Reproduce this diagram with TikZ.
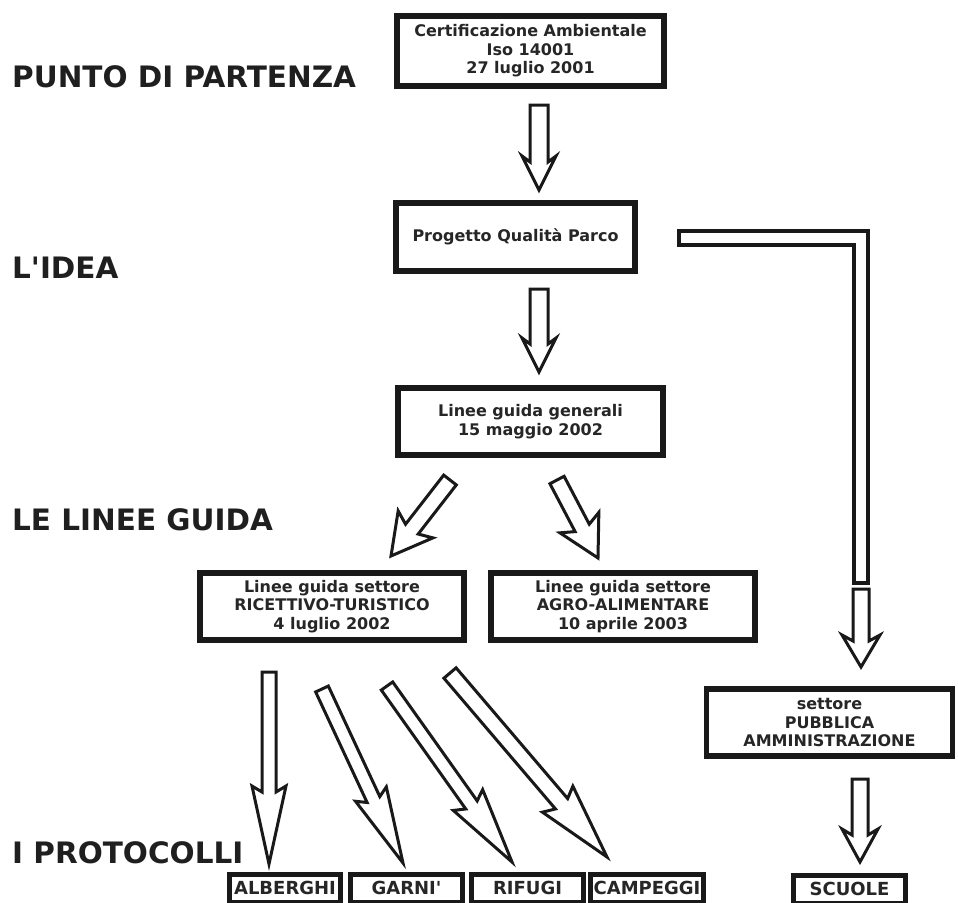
\documentclass[tikz,border=0pt]{standalone}
\usepackage{fontspec}
\setmainfont{DejaVu Sans}
\usetikzlibrary{calc}
\tikzset{
  box/.style={draw=black!90, line width=5.5pt, fill=white, inner sep=0pt, align=center,
    font=\bfseries\fontsize{16}{18.5}\selectfont, text=black!85},
  smallbox/.style={box, line width=5pt, font=\bfseries\fontsize{18}{20}\selectfont},
  biglabel/.style={anchor=base west, inner sep=0pt, font=\bfseries\fontsize{29.5}{32}\selectfont, text=black!88},
  arrowline/.style={draw=black!90, line width=3pt, fill=white, line join=miter},
  barline/.style={draw=black!90, line width=4pt, fill=white, line join=miter}
}
% #1 tail, #2 tip, #3 shaft half width, #4 head half width, #5 head length
\newcommand{\harrow}[5]{%
  \path[arrowline] let \p1=(#1), \p2=(#2), \n1={atan2(\y2-\y1,\x2-\x1)},
     \n2={veclen(\x2-\x1,\y2-\y1)} in
     {[shift={(\x1,\y1)}, rotate=\n1]
      (0,-#3) -- (\n2-#5+6,-#3) -- (\n2-#5,-#4) -- (\n2,0) -- (\n2-#5,#4)
      -- (\n2-#5+6,#3) -- (0,#3) -- cycle};
}
\begin{document}
\begin{tikzpicture}[x=1pt,y=-1pt]
\useasboundingbox (0,0) rectangle (958,902);
% left labels
\node[biglabel] (l1) at (12,87) {PUNTO DI PARTENZA};
\node[biglabel] (l2) at (12,278) {L\textquotesingle IDEA};
\node[biglabel] (l3) at (12,530) {LE LINEE GUIDA};
\node[biglabel] (l4) at (12,863) {I PROTOCOLLI};
% boxes
\node[box, minimum width=267, minimum height=70] (b1) at (530.5,51)
  {Certificazione Ambientale\\Iso 14001\\27 luglio 2001};
\node[box, minimum width=239, minimum height=68] (b2) at (515.5,237)
  {Progetto Qualità Parco};
\node[box, minimum width=265, minimum height=67] (b3) at (530.5,421.5)
  {Linee guida generali\\15 maggio 2002};
\node[box, minimum width=264, minimum height=67] (b4) at (332,606.5)
  {Linee guida settore\\RICETTIVO-TURISTICO\\4 luglio 2002};
\node[box, minimum width=264, minimum height=67] (b5) at (623,606.5)
  {Linee guida settore\\AGRO-ALIMENTARE\\10 aprile 2003};
\node[box, minimum width=246, minimum height=67] (b6) at (829.5,722.5)
  {settore\\PUBBLICA\\AMMINISTRAZIONE};
% bottom boxes
\node[smallbox, minimum width=111, minimum height=28] (p1) at (285,888) {ALBERGHI};
\node[smallbox, minimum width=112, minimum height=28] (p2) at (406.5,888) {GARNI\textquotesingle};
\node[smallbox, minimum width=112, minimum height=28] (p3) at (527.5,888) {RIFUGI};
\node[smallbox, minimum width=113, minimum height=28] (p4) at (647,888) {CAMPEGGI};
\node[smallbox, minimum width=112, minimum height=28] (s1) at (849.5,889) {SCUOLE};
% arrow end points
\coordinate (a1t) at (539,105); \coordinate (a1h) at (539,190);
\coordinate (a2t) at (539,289); \coordinate (a2h) at (539,372);
\coordinate (a3t) at (450,480); \coordinate (a3h) at (391,556);
\coordinate (a4t) at (557,480); \coordinate (a4h) at (598,558);
\coordinate (a5t) at (861,589); \coordinate (a5h) at (861,667);
\coordinate (a6t) at (860,779); \coordinate (a6h) at (860,862);
\coordinate (c1t) at (269,672); \coordinate (c1h) at (269,864);
\coordinate (c2t) at (322,689); \coordinate (c2h) at (403,863);
\coordinate (c3t) at (387,686); \coordinate (c3h) at (512,862);
\coordinate (c4t) at (450,673); \coordinate (c4h) at (607,857);
% bent bar from Progetto to the right
\coordinate (r1) at (679,231);
\coordinate (r2) at (868,231);
\coordinate (r3) at (868,583);
\coordinate (r4) at (854,583);
\coordinate (r5) at (854,245);
\coordinate (r6) at (679,245);
\path[barline] (r1) -- (r2) -- (r3) -- (r4) -- (r5) -- (r6) -- cycle;
% arrows
\harrow{a1t}{a1h}{9}{17}{34}
\harrow{a2t}{a2h}{9}{17}{34}
\harrow{a3t}{a3h}{8}{22}{40}
\harrow{a4t}{a4h}{8}{22}{40}
\harrow{a5t}{a5h}{8}{19}{32}
\harrow{a6t}{a6h}{8}{18}{33}
\harrow{c1t}{c1h}{7}{17}{78}
\harrow{c2t}{c2h}{7}{17}{76}
\harrow{c3t}{c3h}{7}{18}{76}
\harrow{c4t}{c4h}{8}{20}{76}
\end{tikzpicture}
\end{document}
